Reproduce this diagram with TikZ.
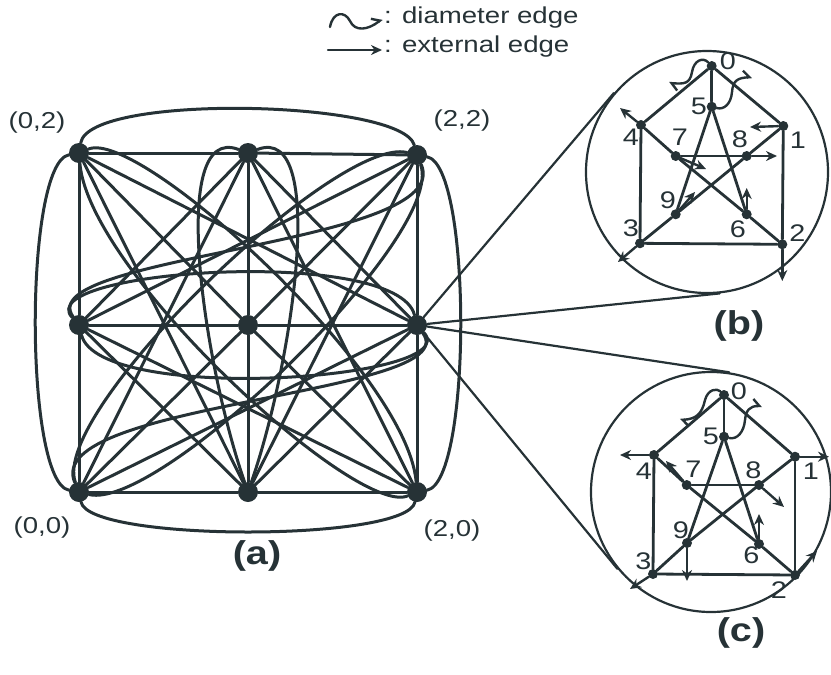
\documentclass[tikz,border=0pt]{standalone}
\usepackage{fontspec}
\setmainfont{Liberation Sans}[FakeStretch=1.2]
\usetikzlibrary{arrows.meta,calc}
\definecolor{ink}{RGB}{38,50,54}
\begin{document}
\begin{tikzpicture}[x=1pt,y=-1pt,line cap=round,line join=round,color=ink,
  big/.style={circle,fill=ink,inner sep=0pt,minimum size=20pt},
  pd/.style={circle,fill=ink,inner sep=0pt,minimum size=10pt},
  aedge/.style={line width=3pt},
  pe/.style={line width=2.8pt},
  ext/.style={line width=2.4pt,-{Stealth[length=11pt,width=10pt]}},
  dia/.style={line width=2.4pt,-{Straight Barb[harpoon,length=6pt,width=14pt,line width=2.4pt]}},
  lab/.style={font=\fontsize{23}{23}\selectfont,inner sep=0pt},
  dl/.style={font=\fontsize{24}{24}\selectfont,inner sep=0pt},
  capt/.style={font=\fontsize{33}{33}\selectfont\bfseries,inner sep=0pt},
  ring/.style={circle,draw=ink,line width=2.2pt,inner sep=0pt},
  tline/.style={line width=2.2pt}]
\useasboundingbox (0,0) rectangle (831,675);

% ---------- legend ----------
\coordinate (lw1) at (330,27);
\coordinate (lw2) at (382,19);
\draw[dia] (lw1) .. controls (333,11) and (345,11) .. (350,21) .. controls (355,32) and (368,30) .. (lw2);
\node[lab,anchor=west] (ldia) at (384,18) {: diameter edge};
\coordinate (la1) at (328,50);
\coordinate (la2) at (382,50);
\draw[ext] (la1) -- (la2);
\node[lab,anchor=west] (lext) at (384,47) {: external edge};

% ---------- (a) ----------
\node[big] (A) at (79,153) {};
\node[big] (B) at (248,153) {};
\node[big] (C) at (417,155) {};
\node[big] (D) at (79,325) {};
\node[big] (E) at (248,325) {};
\node[big] (F) at (417,325) {};
\node[big] (G) at (79,492) {};
\node[big] (H) at (248,492) {};
\node[big] (I) at (417,492) {};

\begin{scope}[aedge]
\draw (A)--(B); \draw (B)--(C); \draw (D)--(E); \draw (E)--(F); \draw (G)--(H); \draw (H)--(I);
\draw (A)--(D); \draw (D)--(G); \draw (B)--(E); \draw (E)--(H); \draw (C)--(F); \draw (F)--(I);
\draw (G)--(E); \draw (E)--(C); \draw (D)--(B); \draw (H)--(F);
\draw (A)--(E); \draw (E)--(I); \draw (D)--(H); \draw (B)--(F);
\draw (A)--(H); \draw (B)--(I); \draw (I)--(D); \draw (F)--(A);
\draw (G)--(B); \draw (H)--(C); \draw (F)--(G); \draw (C)--(D);
% wrap arcs
\draw (A) .. controls ($(A)+(10,-60)$) and ($(C)+(-15,-55)$) .. (C);
\draw (G) .. controls ($(G)+(10,50)$) and ($(I)+(-10,50)$) .. (I);
\draw (A) .. controls ($(A)+(-55,10)$) and ($(G)+(-55,-10)$) .. (G);
\draw (C) .. controls ($(C)+(55,10)$) and ($(I)+(55,-10)$) .. (I);
% middle column lens
\draw (B) .. controls ($(B)+(-80,-30)$) and ($(H)+(-45,-130)$) .. (H);
\draw (B) .. controls ($(B)+(80,-30)$) and ($(H)+(45,-130)$) .. (H);
% middle row lens
\draw (D) .. controls ($(D)+(-50,-55)$) and ($(F)+(-20,-80)$) .. (F);
\draw (F) .. controls ($(F)+(50,55)$) and ($(D)+(20,80)$) .. (D);
% long loops
\draw (D) .. controls ($(D)+(-50,-70)$) and ($(C)+(40,90)$) .. (C);
\draw (F) .. controls ($(F)+(50,70)$) and ($(G)+(-40,-90)$) .. (G);
% diagonal lenses
\draw (A) .. controls ($(A)+(60,-25)$) and ($(I)+(-10,-120)$) .. (I);
\draw (A) .. controls ($(A)+(10,120)$) and ($(I)+(-60,25)$) .. (I);
\draw (C) .. controls ($(C)+(30,80)$) and ($(G)+(80,20)$) .. (G);
\draw (G) .. controls ($(G)+(-30,-80)$) and ($(C)+(-80,-20)$) .. (C);
\end{scope}

\node[lab] (t02) at (37,123) {(0,2)};
\node[lab] (t22) at (462,121) {(2,2)};
\node[lab] (t00) at (42,528) {(0,0)};
\node[lab] (t20) at (452,531) {(2,0)};
\node[capt] (capa) at (257,556) {(a)};

% ---------- circles ----------
\node[ring,minimum size=242pt] (cb) at (707,172) {};
\node[ring,minimum size=240pt] (cc) at (711,492) {};
\draw[tline] (F) -- (tangent cs:node=cb,point={(F)},solution=1);
\draw[tline] (F) -- (tangent cs:node=cb,point={(F)},solution=2);
\draw[tline] (F) -- (tangent cs:node=cc,point={(F)},solution=1);
\draw[tline] (F) -- (tangent cs:node=cc,point={(F)},solution=2);
\node[capt] (capb) at (739,326) {(b)};
\node[capt] (capc) at (741,633) {(c)};

% ---------- (b) ----------
\node[pd] (b0) at (711.7,66) {};
\node[pd] (b5) at (711.7,106.7) {};
\node[pd] (b4) at (641,125) {};
\node[pd] (b1) at (783.3,126) {};
\node[pd] (b7) at (675.7,156) {};
\node[pd] (b8) at (746.7,156) {};
\node[pd] (b9) at (675.7,214.3) {};
\node[pd] (b6) at (746.7,214.3) {};
\node[pd] (b3) at (640,243.3) {};
\node[pd] (b2) at (782.3,244.3) {};
\begin{scope}[pe]
\draw (b0)--(b4); \draw (b0)--(b1); \draw (b4)--(b3); \draw (b1)--(b2); \draw (b3)--(b2);
\draw (b0)--(b5); \draw (b4)--(b7); \draw (b1)--(b8); \draw (b3)--(b9); \draw (b2)--(b6);
\draw (b5)--(b9); \draw (b5)--(b6); \draw (b7)--(b8); \draw (b7)--(b6); \draw (b8)--(b9);
\end{scope}
\coordinate (b4t) at (620,108);
\coordinate (b1t) at (750,127);
\coordinate (b7t) at (706,169);
\coordinate (b8t) at (777,156);
\coordinate (b9t) at (695,192);
\coordinate (b6t) at (746.7,188);
\coordinate (b3t) at (618,262);
\coordinate (b2t) at (782.3,281);
\draw[ext] (b4)--(b4t); \draw[ext] (b1)--(b1t); \draw[ext] (b7)--(b7t); \draw[ext] (b8)--(b8t);
\draw[ext] (b9)--(b9t); \draw[ext] (b6)--(b6t); \draw[ext] (b3)--(b3t); \draw[ext] (b2)--(b2t);
\coordinate (bw0) at (669,83);
\coordinate (bw5) at (752,77);
\draw[dia] (b0) .. controls (703,57) and (694,60) .. (692,72) .. controls (690,84) and (684,84) .. (bw0);
\draw[dia] (b5) .. controls (724,110) and (731,104) .. (732,92) .. controls (733,80) and (738,78) .. (bw5);
\node[dl] (lb0) at (728,61) {0};
\node[dl] (lb5) at (699,106) {5};
\node[dl] (lb4) at (631,137) {4};
\node[dl] (lb7) at (680,137.5) {7};
\node[dl] (lb8) at (740,139.5) {8};
\node[dl] (lb1) at (798,140) {1};
\node[dl] (lb9) at (668,200) {9};
\node[dl] (lb6) at (738,229.5) {6};
\node[dl] (lb3) at (631,228.5) {3};
\node[dl] (lb2) at (797.5,233.5) {2};

% ---------- (c) ----------
\node[pd] (c0) at (724,395) {};
\node[pd] (c5) at (724,436.7) {};
\node[pd] (c4) at (654,455) {};
\node[pd] (c1) at (795,456.7) {};
\node[pd] (c7) at (686.7,485) {};
\node[pd] (c8) at (759,485) {};
\node[pd] (c9) at (687,543) {};
\node[pd] (c6) at (759,544) {};
\node[pd] (c3) at (653,574) {};
\node[pd] (c2) at (795,575) {};
\begin{scope}[pe]
\draw (c0)--(c4); \draw (c0)--(c1); \draw (c4)--(c3); \draw (c1)--(c2); \draw (c3)--(c2);
\draw (c0)--(c5); \draw (c4)--(c7); \draw (c1)--(c8); \draw (c3)--(c9); \draw (c2)--(c6);
\draw (c5)--(c9); \draw (c5)--(c6); \draw (c7)--(c8); \draw (c7)--(c6); \draw (c8)--(c9);
\end{scope}
\coordinate (c4t) at (620,455);
\coordinate (c1t) at (829,456.7);
\coordinate (c7t) at (666,461);
\coordinate (c8t) at (784,507);
\coordinate (c9t) at (687,581);
\coordinate (c6t) at (759,514);
\coordinate (c3t) at (630,589);
\coordinate (c2t) at (817,551);
\draw[ext] (c4)--(c4t); \draw[ext] (c1)--(c1t); \draw[ext] (c7)--(c7t); \draw[ext] (c8)--(c8t);
\draw[ext] (c9)--(c9t); \draw[ext] (c6)--(c6t); \draw[ext] (c3)--(c3t); \draw[ext] (c2)--(c2t);
\coordinate (cw0) at (680,420);
\coordinate (cw5) at (762,406);
\draw[dia] (c0) .. controls (717,388) and (708,389) .. (705,400) .. controls (702,414) and (696,419) .. (cw0);
\draw[dia] (c5) .. controls (737,440) and (744,432) .. (745,420) .. controls (746,410) and (750,406) .. (cw5);
\node[dl] (lc0) at (739,391.5) {0};
\node[dl] (lc5) at (711,436.5) {5};
\node[dl] (lc4) at (644,471) {4};
\node[dl] (lc7) at (693.5,469) {7};
\node[dl] (lc8) at (753.5,470) {8};
\node[dl] (lc1) at (811,471) {1};
\node[dl] (lc9) at (681,530) {9};
\node[dl] (lc6) at (751.5,555) {6};
\node[dl] (lc3) at (643.5,561.5) {3};
\node[dl] (lc2) at (779,590) {2};
\end{tikzpicture}
\end{document}
